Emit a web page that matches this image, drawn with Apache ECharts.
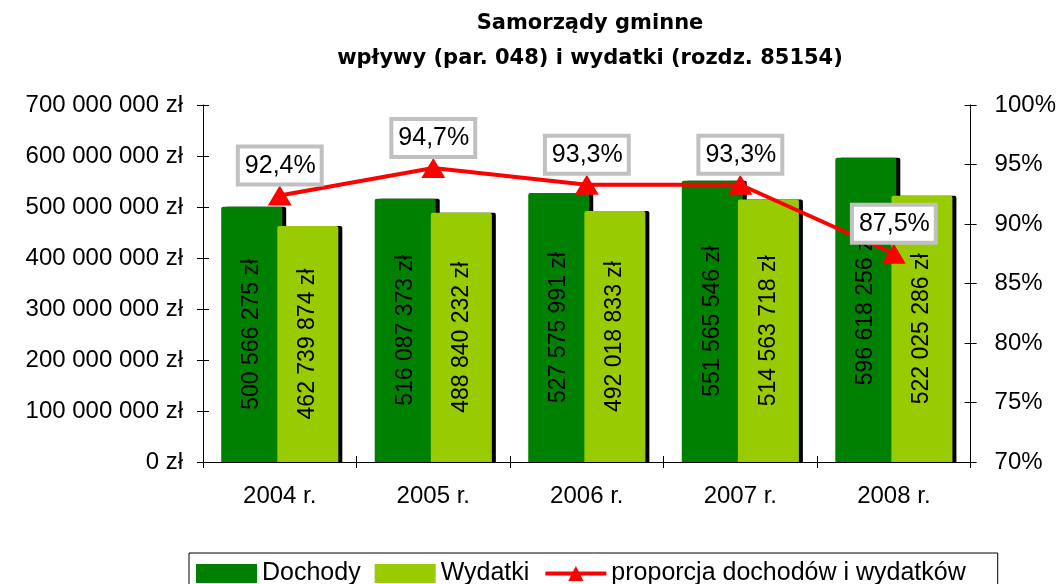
<!DOCTYPE html>
<html><head><meta charset="utf-8">
<script src="https://cdn.jsdelivr.net/npm/echarts@6/dist/echarts.min.js"></script>
<style>html,body{margin:0;padding:0;background:#fff}#c{width:1059px;height:584px}</style>
</head><body><div id="c"></div>
<script>
const categories = ['2004 r.', '2005 r.', '2006 r.', '2007 r.', '2008 r.'];
const dochody = [500566275, 516087373, 527575991, 551565546, 596618256];
const wydatki = [462739874, 488840232, 492018833, 514563718, 522025286];
const proporcja = [92.4, 94.7, 93.3, 93.3, 87.5];
const leftMin = 0, leftMax = 700000000, leftStep = 100000000;
const rightMin = 70, rightMax = 100, rightStep = 5;
const seriesNames = ['Dochody', 'Wydatki', 'proporcja dochodów i wydatków'];
const titleLines = ['Samorządy gminne', 'wpływy (par. 048) i wydatki (rozdz. 85154)'];

const FONT = '"Liberation Sans", Arial, sans-serif';
function fmt(v) { return String(v).replace(/\B(?=(\d{3})+(?!\d))/g, ' '); }

const chart = echarts.init(document.getElementById('c'), null, {renderer: 'canvas'});
const tickStyle = {color: '#000', width: 1};
const hiddenY = (pos, min, max, step) => ({
  type: 'value', position: pos, offset: 0, min, max, interval: step,
  axisLine: {show: false}, axisLabel: {show: false}, splitLine: {show: false},
  axisTick: {show: true, inside: true, length: 6, lineStyle: tickStyle}
});
const plainIcon = {shadowBlur: 0, shadowOffsetX: 0, shadowOffsetY: 0, shadowColor: 'transparent', borderRadius: 0};
chart.setOption({
  animation: false,
  backgroundColor: '#fff',
  title: {
    text: titleLines.join('\n'),
    left: 590, top: 6, padding: 0, textAlign: 'center',
    textStyle: {fontFamily: '"DejaVu Sans", sans-serif', fontWeight: 'bold', fontSize: 21, lineHeight: 35, color: '#000'}
  },
  legend: {
    left: 189, top: 553, padding: [8, 32, 8, 7],
    borderColor: '#000', borderWidth: 1,
    itemWidth: 61, itemHeight: 19, itemGap: 14,
    textStyle: {fontFamily: FONT, fontSize: 25, color: '#000'},
    data: [
      {name: seriesNames[0], icon: 'rect', itemStyle: plainIcon},
      {name: seriesNames[1], icon: 'rect', itemStyle: plainIcon},
      {name: seriesNames[2], lineStyle: {width: 4, color: '#ff0000'}}
    ]
  },
  grid: {left: 203, right: 88, top: 105, bottom: 122},
  xAxis: [{
    type: 'category', data: categories, position: 'bottom',
    axisLine: {lineStyle: {color: '#000', width: 1}},
    axisTick: {show: true, length: 6, lineStyle: tickStyle},
    axisLabel: {fontFamily: FONT, fontSize: 24, color: '#000', margin: 22}
  }, {
    type: 'category', data: categories, position: 'bottom', offset: 0,
    axisLine: {show: false}, axisLabel: {show: false},
    axisTick: {show: true, inside: true, length: 6, lineStyle: tickStyle}
  }],
  yAxis: [{
    type: 'value', position: 'left', min: leftMin, max: leftMax, interval: leftStep,
    axisLine: {show: true, lineStyle: {color: '#000', width: 1}},
    axisTick: {show: true, length: 6, lineStyle: tickStyle},
    splitLine: {show: false},
    axisLabel: {fontFamily: FONT, fontSize: 24, color: '#000', margin: 20, formatter: v => fmt(v) + ' zł'}
  }, {
    type: 'value', position: 'right', min: rightMin, max: rightMax, interval: rightStep,
    axisLine: {show: true, lineStyle: {color: '#000', width: 1}},
    axisTick: {show: true, length: 6, lineStyle: tickStyle},
    splitLine: {show: false},
    axisLabel: {fontFamily: FONT, fontSize: 24, color: '#000', margin: 24, formatter: v => v + '%'}
  },
  hiddenY('left', leftMin, leftMax, leftStep),
  hiddenY('right', rightMin, rightMax, rightStep)],
  series: [{
    name: seriesNames[0], type: 'bar', data: dochody, yAxisIndex: 0,
    barWidth: 61, barGap: '-8%',
    itemStyle: {color: '#008000', borderRadius: [2, 2, 0, 0], shadowColor: '#000', shadowOffsetX: 4, shadowOffsetY: 0, shadowBlur: 0},
    label: {show: true, position: 'inside', rotate: 90, fontFamily: FONT, fontSize: 23, color: '#000', formatter: p => fmt(p.value) + ' zł'}
  }, {
    name: seriesNames[1], type: 'bar', data: wydatki, yAxisIndex: 0,
    barWidth: 61, barGap: '-8%',
    itemStyle: {color: '#99cc00', borderRadius: [2, 2, 0, 0], shadowColor: '#000', shadowOffsetX: 4, shadowOffsetY: 0, shadowBlur: 0},
    label: {show: true, position: 'inside', rotate: 90, fontFamily: FONT, fontSize: 23, color: '#000', formatter: p => fmt(p.value) + ' zł'}
  }, {
    name: seriesNames[2], type: 'line', data: proporcja, yAxisIndex: 1, z: 5,
    symbol: 'triangle', symbolSize: [24, 20],
    lineStyle: {color: '#ff0000', width: 4},
    itemStyle: {color: '#ff0000'},
    label: {
      show: true, position: 'top', distance: 3,
      fontFamily: FONT, fontSize: 25, lineHeight: 25, color: '#000',
      backgroundColor: '#fff', borderColor: '#c0c0c0', borderWidth: 4, padding: [5, 4, 4, 5],
      formatter: p => p.value.toFixed(1).replace('.', ',') + '%'
    }
  }]
});
</script></body></html>
